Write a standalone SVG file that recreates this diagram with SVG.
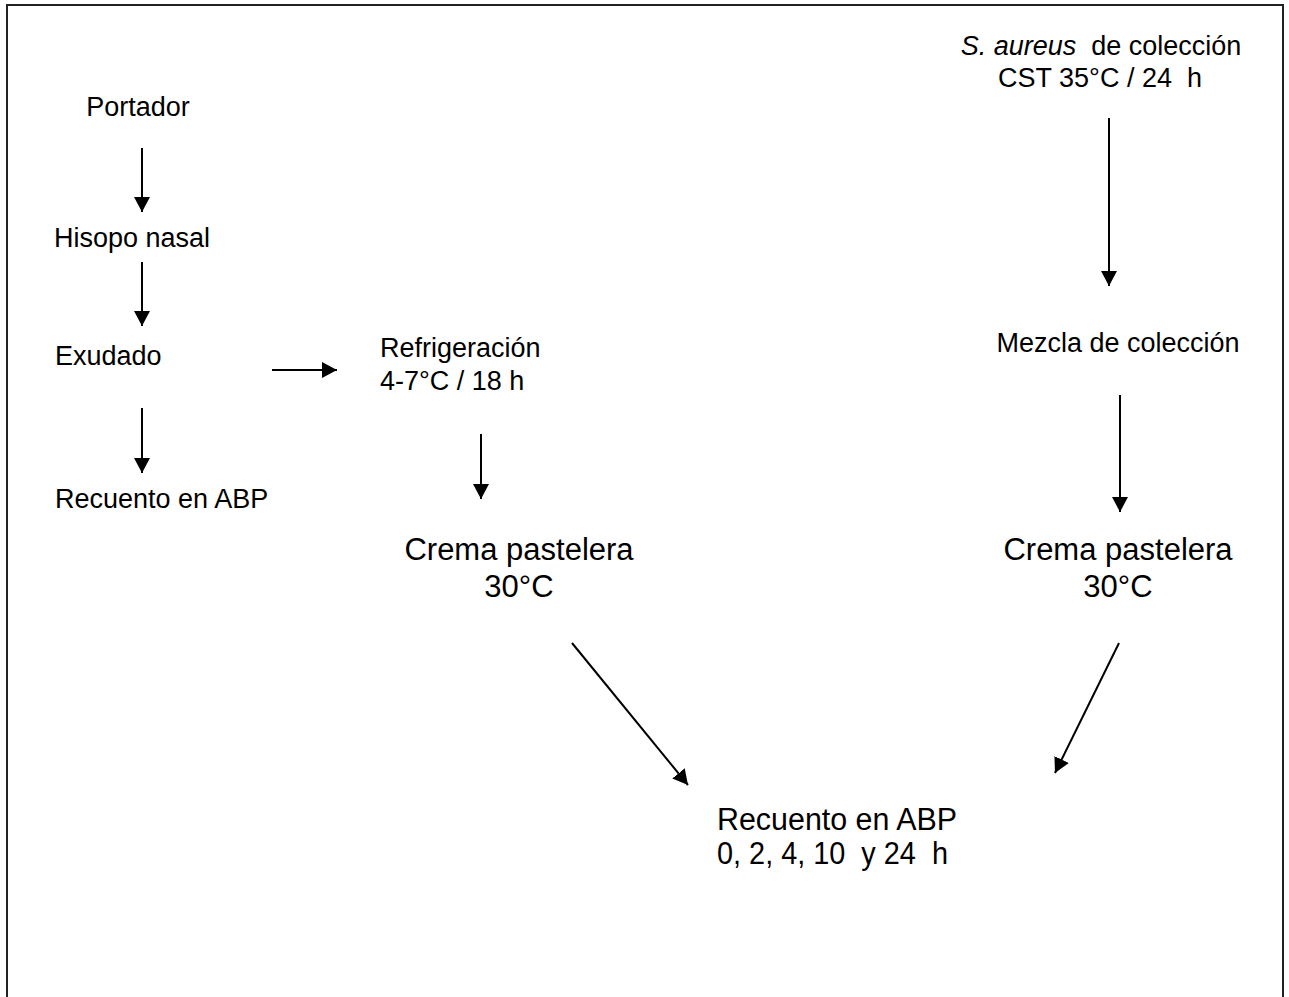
<svg xmlns="http://www.w3.org/2000/svg" width="1289" height="997" viewBox="0 0 1289 997">
<style>
  text { font-family: "Liberation Sans", Arial, sans-serif; fill: #000; white-space: pre; }
  .s { font-size: 27px; }
  .l { font-size: 31px; }
  .c { text-anchor: middle; }
  .ln { stroke: #000; stroke-width: 2; fill: none; marker-end: url(#ah); }
</style>
<defs>
  <marker id="ah" markerUnits="userSpaceOnUse" markerWidth="16" markerHeight="16" refX="15" refY="8" orient="auto">
    <path d="M0,0 L15,8 L0,16 Z" fill="#000"/>
  </marker>
</defs>
<rect width="1289" height="997" fill="#fff"/>
<path d="M7,997 V5 H1283 V997" fill="none" stroke="#222" stroke-width="2"/>

<g id="connectors">
  <line class="ln" x1="142" y1="148" x2="142" y2="212"/>
  <line class="ln" x1="142" y1="262" x2="142" y2="326"/>
  <line class="ln" x1="142" y1="408" x2="142" y2="473"/>
  <line class="ln" x1="272" y1="370" x2="337" y2="370"/>
  <line class="ln" x1="481" y1="434" x2="481" y2="499"/>
  <line class="ln" x1="1109" y1="118" x2="1109" y2="286"/>
  <line class="ln" x1="1120" y1="395" x2="1120" y2="512"/>
  <line class="ln" x1="572" y1="643" x2="688" y2="785"/>
  <line class="ln" x1="1119" y1="643" x2="1055" y2="773"/>
</g>

<g id="portador"><text class="s c" x="138" y="116">Portador</text></g>
<g id="hisopo"><text class="s" x="54" y="247">Hisopo nasal</text></g>
<g id="exudado"><text class="s" x="55" y="365">Exudado</text></g>
<g id="recuento1"><text class="s" x="55" y="508">Recuento en ABP</text></g>
<g id="refrigeracion">
  <text class="s" x="380" y="357">Refrigeración</text>
  <text class="s" x="380" y="390">4-7°C / 18 h</text>
</g>
<g id="crema1">
  <text class="l c" x="519" y="560">Crema pastelera</text>
  <text class="l c" x="519" y="597">30°C</text>
</g>
<g id="saureus">
  <text class="s c" x="1101" y="55"><tspan font-style="italic">S. aureus</tspan>  de colección</text>
  <text class="s c" x="1100" y="87">CST 35°C / 24  h</text>
</g>
<g id="mezcla"><text class="s c" x="1118" y="352">Mezcla de colección</text></g>
<g id="crema2">
  <text class="l c" x="1118" y="560">Crema pastelera</text>
  <text class="l c" x="1118" y="597">30°C</text>
</g>
<g id="recuento2">
  <text class="l" x="717" y="830" textLength="240" lengthAdjust="spacingAndGlyphs">Recuento en ABP</text>
  <text class="l" x="717" y="864" textLength="231" lengthAdjust="spacingAndGlyphs">0, 2, 4, 10  y 24  h</text>
</g>
</svg>
